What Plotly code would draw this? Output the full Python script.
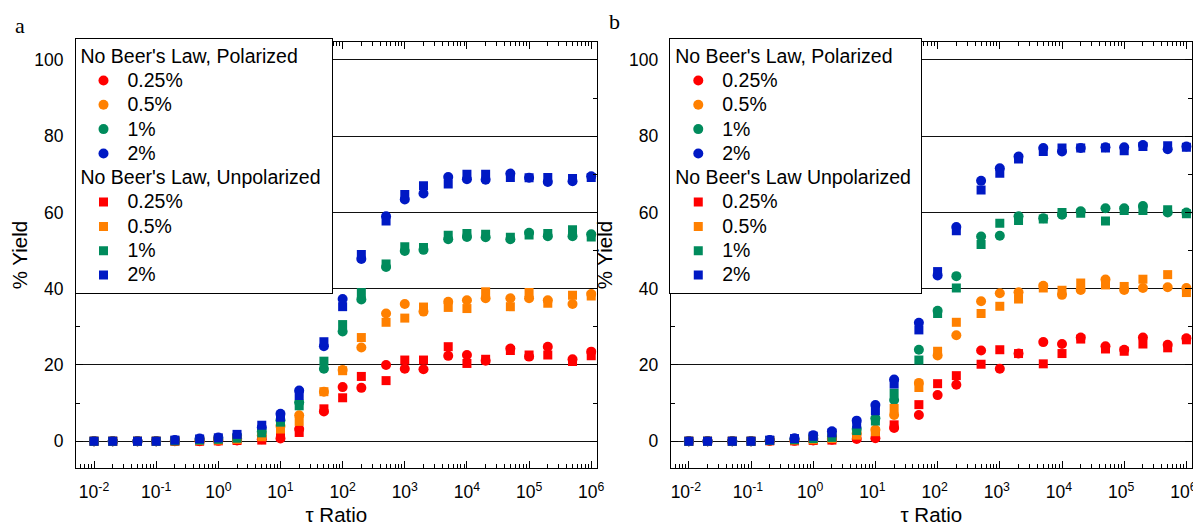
import plotly.graph_objects as go

# ---------------- data ----------------
tau = [0.01, 0.02, 0.05, 0.1, 0.2, 0.5, 1, 2, 5, 10, 20, 50, 100, 200, 500,
       1e3, 2e3, 5e3, 1e4, 2e4, 5e4, 1e5, 2e5, 5e5, 1e6]

concs = ["0.25%", "0.5%", "1%", "2%"]
colors = ["#FF0000", "#FF8000", "#008B5C", "#0019C4"]

# panel a, polarized (circles)
a_pol_025 = [0, 0, 0, 0, 0, 0, 0.1, 0.2, 0.5, 0.7, 3.2, 7.8, 14.2, 14.0, 20.0, 19.0, 18.9, 22.4, 22.6, 21.1, 24.3, 22.2, 24.8, 21.5, 23.5]
a_pol_05 = [0, 0, 0, 0, 0.1, 0.2, 0.3, 0.5, 1.5, 4.0, 6.8, 13.0, 18.7, 24.6, 33.5, 36.0, 34.0, 36.6, 37.0, 37.5, 37.5, 37.5, 37.0, 36.0, 38.6]
a_pol_1 = [0, 0, 0, 0, 0.1, 0.4, 0.6, 0.8, 2.5, 5.5, 10.2, 19.0, 28.8, 37.2, 45.7, 49.9, 50.2, 53.0, 53.6, 53.5, 53.0, 54.7, 53.8, 53.8, 54.3]
a_pol_2 = [0, 0, 0, 0, 0.3, 0.7, 1.0, 1.5, 3.6, 7.2, 13.3, 24.9, 37.3, 47.8, 59.0, 63.4, 65.0, 69.3, 68.7, 68.6, 70.2, 69.1, 68.0, 68.2, 69.5]
# panel a, unpolarized (squares)
a_unp_025 = [0, 0, 0, 0, 0, 0, 0.1, 0.2, 0.3, 1.6, 2.3, 8.5, 11.4, 17.0, 15.9, 21.3, 21.3, 24.8, 20.4, 21.5, 23.8, 22.6, 22.6, 20.9, 22.4]
a_unp_05 = [0, 0, 0, 0, 0.1, 0.2, 0.3, 0.5, 1.2, 3.2, 5.2, 13.0, 18.5, 27.2, 31.2, 32.3, 35.2, 35.1, 34.8, 39.2, 35.3, 39.0, 36.2, 38.3, 38.1]
a_unp_1 = [0, 0, 0, 0, 0.1, 0.3, 0.5, 0.8, 2.2, 5.0, 9.3, 21.0, 30.6, 39.0, 46.5, 51.0, 50.8, 54.0, 54.5, 54.3, 53.5, 54.1, 54.5, 55.5, 53.6]
a_unp_2 = [0, 0, 0, 0, 0.3, 0.6, 0.9, 1.8, 4.2, 6.3, 12.0, 26.1, 35.3, 49.0, 57.8, 64.7, 67.0, 67.5, 70.0, 70.0, 69.2, 69.1, 69.2, 68.9, 69.2]

# panel b, polarized (circles)
b_pol_025 = [0, 0, 0, 0, 0.1, 0.1, 0.2, 0.4, 0.6, 0.8, 3.5, 6.9, 12.1, 14.8, 23.8, 19.0, 23.0, 26.0, 25.5, 27.2, 24.9, 24.0, 27.2, 25.3, 27.0]
b_pol_05 = [0, 0, 0, 0, 0.2, 0.3, 0.5, 0.8, 2.0, 3.0, 6.9, 15.3, 22.5, 27.8, 36.7, 38.8, 39.1, 40.8, 38.4, 39.7, 42.4, 39.7, 40.2, 40.4, 40.2]
b_pol_1 = [0, 0, 0, 0, 0.2, 0.5, 0.8, 1.2, 3.2, 6.0, 10.8, 24.0, 34.2, 43.3, 53.7, 53.9, 59.0, 58.5, 59.4, 60.3, 61.1, 61.1, 61.7, 60.0, 60.0]
b_pol_2 = [0, 0, 0, 0, 0.3, 0.8, 1.6, 2.6, 5.4, 9.5, 16.2, 31.1, 43.5, 56.2, 68.3, 71.6, 74.7, 76.9, 76.0, 76.9, 77.1, 77.1, 77.7, 76.6, 77.3]
# panel b, unpolarized (squares)
b_unp_025 = [0, 0, 0, 0, 0.1, 0.1, 0.2, 0.3, 1.0, 1.3, 4.3, 9.6, 15.1, 17.2, 20.2, 24.0, 23.0, 20.3, 23.0, 26.8, 24.2, 23.6, 25.5, 24.5, 26.6]
b_unp_05 = [0, 0, 0, 0, 0.2, 0.3, 0.4, 0.7, 1.6, 2.5, 8.6, 14.1, 23.6, 31.2, 33.5, 35.4, 37.3, 40.2, 39.6, 41.5, 41.0, 40.6, 42.5, 43.7, 39.0]
b_unp_1 = [0, 0, 0, 0, 0.2, 0.4, 0.7, 1.0, 2.8, 5.3, 12.6, 21.3, 33.5, 40.2, 51.6, 57.2, 57.9, 58.3, 60.0, 59.8, 57.8, 60.5, 60.5, 60.7, 59.7]
b_unp_2 = [0, 0, 0, 0, 0.3, 0.7, 1.3, 2.2, 4.5, 8.0, 15.0, 29.2, 44.5, 55.2, 65.9, 70.3, 74.0, 76.0, 76.9, 76.9, 76.9, 76.2, 77.3, 77.5, 77.1]

a_group_pol = "No Beer's Law, Polarized"
a_group_unp = "No Beer's Law, Unpolarized"
b_group_pol = "No Beer's Law, Polarized"
b_group_unp = "No Beer's Law Unpolarized"

x_major = [1e-2, 1e-1, 1e0, 1e1, 1e2, 1e3, 1e4, 1e5, 1e6]
x_labels = ["10<sup>-2</sup>", "10<sup>-1</sup>", "10<sup>0</sup>", "10<sup>1</sup>", "10<sup>2</sup>",
            "10<sup>3</sup>", "10<sup>4</sup>", "10<sup>5</sup>", "10<sup>6</sup>"]
y_major = [0, 20, 40, 60, 80, 100]
y_minor = [10, 30, 50, 70, 90]

# ---------------- figure ----------------
FONT = "Liberation Sans, Arial, sans-serif"
SERIF = "Liberation Serif, Times New Roman, serif"
LEG_BIG = 19.5


def big(t):
    return f'<span style="font-size:{LEG_BIG}px">{t}</span>'


fig = go.Figure()

panels = [
    ("x", "y", "legend", "a", a_group_pol, a_group_unp,
     [a_pol_025, a_pol_05, a_pol_1, a_pol_2], [a_unp_025, a_unp_05, a_unp_1, a_unp_2]),
    ("x2", "y2", "legend2", "b", b_group_pol, b_group_unp,
     [b_pol_025, b_pol_05, b_pol_1, b_pol_2], [b_unp_025, b_unp_05, b_unp_1, b_unp_2]),
]

for xa, ya, leg, tag, gpol, gunp, pols, unps in panels:
    for c, col, vals in zip(concs, colors, pols):
        fig.add_trace(go.Scatter(
            x=tau, y=vals, mode="markers", xaxis=xa, yaxis=ya, legend=leg,
            name=big(c), legendgroup=f"{tag}pol",
            legendgrouptitle=dict(text=big(gpol)),
            marker=dict(symbol="circle", size=10, color=col, line=dict(width=0)),
        ))
    for c, col, vals in zip(concs, colors, unps):
        fig.add_trace(go.Scatter(
            x=tau, y=vals, mode="markers", xaxis=xa, yaxis=ya, legend=leg,
            name=big(c), legendgroup=f"{tag}unp",
            legendgrouptitle=dict(text=big(gunp)),
            marker=dict(symbol="square", size=9, color=col, line=dict(width=0)),
        ))

x_minor = [k * 10 ** e for e in range(-3, 7) for k in range(2, 10)]

xcommon = dict(
    type="log", range=[-2.29, 6.09], automargin=False,
    tickmode="array", tickvals=x_major, ticktext=x_labels,
    ticks="inside", ticklen=7, tickwidth=1, tickcolor="black",
    showline=True, linecolor="black", linewidth=1.2, mirror="ticks",
    showgrid=False, zeroline=False,
    minor=dict(tickmode="array", tickvals=x_minor, ticks="inside", ticklen=4,
               tickwidth=1, tickcolor="black", showgrid=False),
    tickfont=dict(family=FONT, size=17.5, color="black"),
    ticklabelstandoff=8, ticklabeloverflow="allow",
    title=dict(text="τ Ratio", font=dict(family=FONT, size=20.5, color="black"), standoff=6),
)
ycommon = dict(
    range=[-7.02, 104.72], automargin=False,
    tickmode="array", tickvals=y_major,
    ticks="inside", ticklen=7, tickwidth=1, tickcolor="black",
    showline=True, linecolor="black", linewidth=1.2, mirror="ticks",
    showgrid=True, gridcolor="#111111", gridwidth=1, zeroline=False,
    minor=dict(tickmode="array", tickvals=y_minor, ticks="inside", ticklen=4,
               tickwidth=1, tickcolor="black", showgrid=False),
    tickfont=dict(family=FONT, size=17.5, color="black"),
    ticklabelstandoff=8, ticklabeloverflow="allow",
    title=dict(text="% Yield", font=dict(family=FONT, size=20.5, color="black"), standoff=10),
)

# the page body adds an 8px offset; lay out in page pixels minus that offset
OFF = 8
W, H = 1201, 529 - OFF
plot_l, plot_r1, plot_l2, plot_r = 75.5 - OFF, 596.7 - OFF, 670.7 - OFF, 1192.3 - OFF
plot_t, plot_b = 42 - OFF, 468.5 - OFF
L, R, T, B = plot_l, W - plot_r, plot_t, H - plot_b
pw, ph = W - L - R, H - T - B

d1 = [0, (plot_r1 - L) / pw]
d2 = [(plot_l2 - L) / pw, 1]

legcommon = dict(
    bgcolor="white", bordercolor="black", borderwidth=1,
    font=dict(family=FONT, size=16.4, color="black"),
    grouptitlefont=dict(family=FONT, size=16.4, color="black"),
    tracegroupgap=0, itemwidth=38, indentation=4,
    xanchor="left", yanchor="top", y=1 + 4 / ph,
)


def px_to_paper(sx, sy):
    return (sx - OFF - L) / pw, 1 - (sy - OFF - T) / ph


ax_, ay_ = px_to_paper(19, 25)
bx_, by_ = px_to_paper(614, 21)

fig.update_layout(
    width=W, height=H,
    margin=dict(l=L, r=R, t=T, b=B, autoexpand=False),
    paper_bgcolor="white", plot_bgcolor="white",
    font=dict(family=FONT, color="black"),
    xaxis=dict(domain=d1, anchor="y", **xcommon),
    yaxis=dict(domain=[0, 1], anchor="x", **ycommon),
    xaxis2=dict(domain=d2, anchor="y2", ticklabelshift=-3, **xcommon),
    yaxis2=dict(domain=[0, 1], anchor="x2", **ycommon),
    legend=dict(x=d1[0] - 1.5 / pw, **legcommon),
    legend2=dict(x=d2[0] - 1.5 / pw, **legcommon),
    showlegend=True,
    annotations=[
        dict(text="a", x=ax_, y=ay_, xref="paper", yref="paper",
             showarrow=False, xanchor="center", yanchor="middle",
             font=dict(family=SERIF, size=22, color="black")),
        dict(text="b", x=bx_, y=by_, xref="paper", yref="paper",
             showarrow=False, xanchor="center", yanchor="middle",
             font=dict(family=SERIF, size=22, color="black")),
    ],
)

fig.write_html("out.html")
